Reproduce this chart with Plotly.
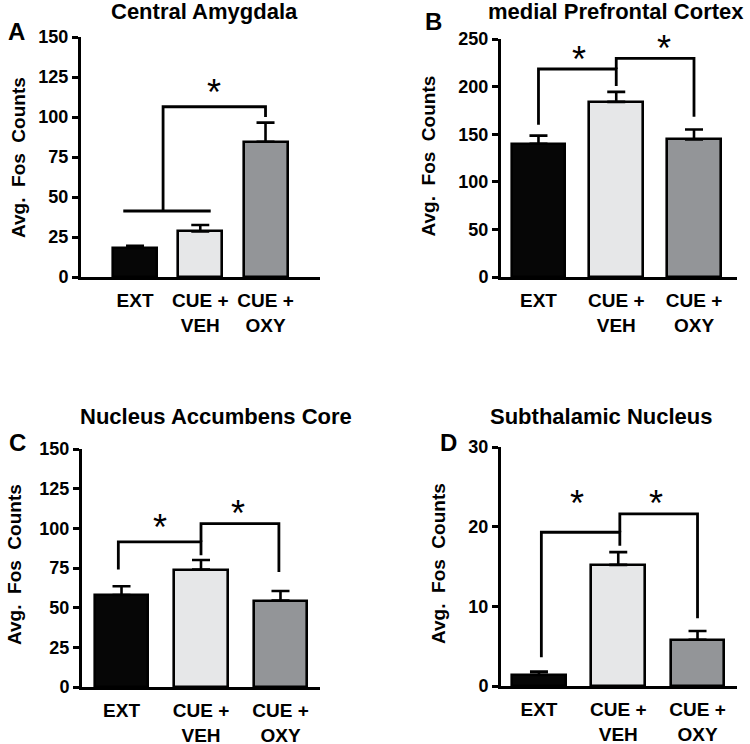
import plotly.graph_objects as go

W, H = 750, 744

categories = ["EXT", "CUE +<br>VEH", "CUE +<br>OXY"]
bar_colors = ["#060606", "#e6e7e8", "#939598"]

# Panel values (mean, SEM)
amyg_mean = [18, 28.5, 84.5]
amyg_sem = [1.5, 4, 12]
mpfc_mean = [140, 184, 144.5]
mpfc_sem = [8.5, 10.5, 10.5]
nacc_mean = [58, 74, 54.5]
nacc_sem = [5.5, 6, 6]
stn_mean = [1.4, 15.2, 5.8]
stn_sem = [0.4, 1.6, 1.1]

titles = ["Central Amygdala", "medial Prefrontal Cortex",
          "Nucleus Accumbens Core", "Subthalamic Nucleus"]
letters = ["A", "B", "C", "D"]
y_max = [150, 250, 150, 30]
y_dtick = [25, 50, 25, 10]

# significance brackets (x in category index units, y in data units)
amyg_brackets = [
    ([-0.18, 1.16], [41.25, 41.25]),
    ([0.43, 0.43, 2.0, 2.0], [41.25, 106.4, 106.4, 100]),
]
amyg_stars = [(1.21, 119)]
mpfc_brackets = [
    ([0, 0, 1, 1], [160, 218.5, 218.5, 200.6]),
    ([1, 1, 2, 2], [218.5, 229.7, 229.7, 168.4]),
]
mpfc_stars = [(0.52, 235), (1.61, 246.5)]
nacc_brackets = [
    ([-0.04, -0.04, 1, 1], [74, 91.5, 91.5, 83]),
    ([1, 1, 1.98, 1.98], [91.5, 103, 103, 72.5]),
]
nacc_stars = [(0.48, 104), (1.47, 113)]
stn_brackets = [
    ([0.03, 0.03, 1.02, 1.02], [3.6, 19.3, 19.3, 17.6]),
    ([1.02, 1.02, 2.0, 2.0], [19.3, 21.6, 21.6, 8.5]),
]
stn_stars = [(0.48, 23.6), (1.47, 23.6)]

# layout geometry in pixels
dom_px = [
    dict(x0=81, x1=320, y0=37, y1=277),
    dict(x0=501, x1=737, y0=39, y1=277),
    dict(x0=82, x1=320, y0=449, y1=687),
    dict(x0=501, x1=737, y0=447, y1=686),
]
x_ranges = [[-0.828, 2.835], [-0.482, 2.553], [-0.497, 2.497], [-0.479, 2.498]]
bar_widths = [0.675, 0.69, 0.667, 0.68]
title_pos = [(204.5, 11.5), (616, 12), (215.5, 417), (601, 417)]
letter_pos = [(16, 32), (433, 22), (17, 442), (448, 442)]
ytitle_pos = [(18, 158), (427.5, 156), (14, 565), (438, 564)]


def px(x):
    return x / W


def py(y):
    return 1 - y / H


means = [amyg_mean, mpfc_mean, nacc_mean, stn_mean]
sems = [amyg_sem, mpfc_sem, nacc_sem, stn_sem]
brackets = [amyg_brackets, mpfc_brackets, nacc_brackets, stn_brackets]
stars = [amyg_stars, mpfc_stars, nacc_stars, stn_stars]

FONT = "Liberation Sans, Arial, Helvetica, sans-serif"

fig = go.Figure()
annotations = []
layout_axes = {}

for i in range(4):
    n = i + 1
    xa = "x" if n == 1 else f"x{n}"
    ya = "y" if n == 1 else f"y{n}"
    fig.add_trace(go.Bar(
        x=[0, 1, 2], y=means[i],
        width=bar_widths[i],
        marker=dict(color=bar_colors, line=dict(color="black", width=2.6)),
        error_y=dict(type="data", symmetric=False, array=sems[i],
                     arrayminus=[0, 0, 0], color="black", thickness=2.6, width=9),
        xaxis=xa, yaxis=ya, showlegend=False, hoverinfo="skip",
    ))
    for bx, by in brackets[i]:
        fig.add_trace(go.Scatter(
            x=bx, y=by, mode="lines", line=dict(color="black", width=2.8),
            xaxis=xa, yaxis=ya, showlegend=False, hoverinfo="skip",
        ))
    for sx, sy in stars[i]:
        annotations.append(dict(
            x=sx, y=sy, xref=xa, yref=ya, text="*", showarrow=False,
            font=dict(family=FONT, size=36, color="black"),
            xanchor="center", yanchor="middle", yshift=-6,
        ))
    d = dom_px[i]
    xkey = "xaxis" if n == 1 else f"xaxis{n}"
    ykey = "yaxis" if n == 1 else f"yaxis{n}"
    layout_axes[xkey] = dict(
        domain=[px(d["x0"]), px(d["x1"])], range=x_ranges[i],
        anchor=ya, showline=True, linecolor="black", linewidth=3,
        showgrid=False, zeroline=False, ticks="", ticklen=0, automargin=False,
        tickmode="array", tickvals=[0, 1, 2], ticktext=categories,
        tickfont=dict(family=FONT, size=19, color="black", weight="bold"),
        ticklabelstandoff=4,
    )
    layout_axes[ykey] = dict(
        domain=[py(d["y1"]), py(d["y0"])], range=[0, y_max[i]],
        anchor=xa, showline=True, linecolor="black", linewidth=3,
        showgrid=False, zeroline=False, ticks="outside", ticklen=6,
        tickwidth=3, tickcolor="black", dtick=y_dtick[i], tick0=0,
        automargin=False,
        tickfont=dict(family=FONT, size=18, color="black", weight="bold"),
        ticklabelstandoff=0,
    )
    tx, ty = title_pos[i]
    annotations.append(dict(
        x=px(tx), y=py(ty), xref="paper", yref="paper", text=titles[i],
        showarrow=False, xanchor="center", yanchor="middle",
        font=dict(family=FONT, size=22, color="black", weight="bold"),
    ))
    lx, ly = letter_pos[i]
    annotations.append(dict(
        x=px(lx), y=py(ly), xref="paper", yref="paper", text=letters[i],
        showarrow=False, xanchor="center", yanchor="middle",
        font=dict(family=FONT, size=24, color="black", weight="bold"),
    ))
    yx, yy = ytitle_pos[i]
    annotations.append(dict(
        x=px(yx), y=py(yy), xref="paper", yref="paper",
        text="Avg.\u00a0\u00a0Fos\u00a0\u00a0Counts", textangle=-90,
        showarrow=False, xanchor="center", yanchor="middle",
        font=dict(family=FONT, size=19, color="black", weight="bold"),
    ))

fig.update_layout(
    width=W, height=H, autosize=False,
    margin=dict(l=0, r=0, t=0, b=0, autoexpand=False),
    paper_bgcolor="white", plot_bgcolor="white",
    annotations=annotations, bargap=0,
    **layout_axes,
)

# remove the browser's default 8px body margin so the figure fills the window
fig.write_html(
    "out.html",
    config={"displayModeBar": False},
    post_script="document.body.style.margin='0px';"
                "document.body.style.padding='0px';"
                "document.body.style.overflow='hidden';",
)
